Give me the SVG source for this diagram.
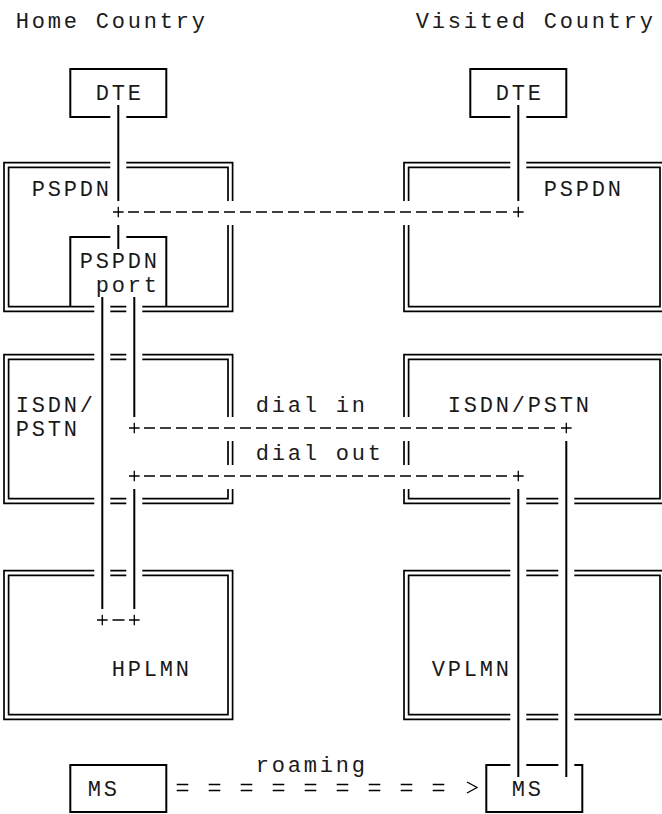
<svg xmlns="http://www.w3.org/2000/svg" width="662" height="814" viewBox="0 0 662 814">
<style>
  text { font-family: "Liberation Mono", "DejaVu Sans Mono", monospace; font-size: 22px; letter-spacing: 2.8px; fill: #1a1a1a; }
  .dbl { fill: none; stroke: #000; stroke-width: 1.7; }
  .sgl { fill: none; stroke: #000; stroke-width: 2; }
  .wire { fill: none; stroke: #000; stroke-width: 2; }
  .plus { fill: none; stroke: #000; stroke-width: 1.3; }
  .dash { fill: none; stroke: #000; stroke-width: 1.4; stroke-dasharray: 11 5; }
  .eq { fill: none; stroke: #000; stroke-width: 1.3; stroke-dasharray: 11.6 20.4; }
</style>
<rect x="0" y="0" width="662" height="814" fill="#fff"/>

<g id="titles">
  <text x="15.7" y="28.3">Home Country</text>
  <text x="415.7" y="28.3">Visited Country</text>
</g>

<g id="home-dte">
  <path class="sgl" d="M126.3,117 H166.3 V69 H70.3 V117 H110.3"/>
  <text x="95.7" y="100.3">DTE</text>
</g>

<g id="visited-dte">
  <path class="sgl" d="M526.3,117 H566.3 V69 H470.3 V117 H510.3"/>
  <text x="495.7" y="100.3">DTE</text>
</g>

<g id="home-pspdn">
  <path class="dbl" d="M126.3,162.7 H232.6 V201 M232.6,225 V311.3 H142.3 M126.3,311.3 H110.3 M94.3,311.3 H4 V162.7 H110.3"/>
  <path class="dbl" d="M126.3,167.3 H228 V201 M228,225 V306.7 H142.3 M126.3,306.7 H110.3 M94.3,306.7 H8.6 V167.3 H110.3"/>
  <text x="31.7" y="196.3">PSPDN</text>
</g>

<g id="pspdn-port">
  <path class="sgl" d="M70.3,306.7 V237 H110.3 M126.3,237 H166.3 V306.7"/>
  <text x="79.7" y="268.3">PSPDN</text>
  <text x="95.7" y="292.3">port</text>
</g>

<g id="visited-pspdn">
  <path class="dbl" d="M526.3,162.7 H664.6 V311.3 H404 V225 M404,201 V162.7 H510.3"/>
  <path class="dbl" d="M526.3,167.3 H660 V306.7 H408.6 V225 M408.6,201 V167.3 H510.3"/>
  <text x="543.7" y="196.3">PSPDN</text>
</g>

<g id="home-isdn-pstn">
  <path class="dbl" d="M142.3,354.7 H232.6 V417 M232.6,441 V465 M232.6,489 V503.3 H142.3 M126.3,503.3 H110.3 M94.3,503.3 H4 V354.7 H94.3 M110.3,354.7 H126.3"/>
  <path class="dbl" d="M142.3,359.3 H228 V417 M228,441 V465 M228,489 V498.7 H142.3 M126.3,498.7 H110.3 M94.3,498.7 H8.6 V359.3 H94.3 M110.3,359.3 H126.3"/>
  <text x="15.7" y="412.3">ISDN/</text>
  <text x="15.7" y="436.3">PSTN</text>
</g>

<g id="visited-isdn-pstn">
  <path class="dbl" d="M404,417 V354.7 H664.6 V503.3 H574.3 M558.3,503.3 H526.3 M510.3,503.3 H404 V489 M404,465 V441"/>
  <path class="dbl" d="M408.6,417 V359.3 H660 V498.7 H574.3 M558.3,498.7 H526.3 M510.3,498.7 H408.6 V489 M408.6,465 V441"/>
  <text x="447.7" y="412.3">ISDN/PSTN</text>
</g>

<g id="hplmn">
  <path class="dbl" d="M142.3,570.7 H232.6 V719.3 H4 V570.7 H94.3 M110.3,570.7 H126.3"/>
  <path class="dbl" d="M142.3,575.3 H228 V714.7 H8.6 V575.3 H94.3 M110.3,575.3 H126.3"/>
  <text x="111.7" y="676.3">HPLMN</text>
</g>

<g id="vplmn">
  <path class="dbl" d="M574.3,570.7 H664.6 V719.3 H574.3 M558.3,719.3 H526.3 M510.3,719.3 H404 V570.7 H510.3 M526.3,570.7 H558.3"/>
  <path class="dbl" d="M574.3,575.3 H660 V714.7 H574.3 M558.3,714.7 H526.3 M510.3,714.7 H408.6 V575.3 H510.3 M526.3,575.3 H558.3"/>
  <text x="431.7" y="676.3">VPLMN</text>
</g>

<g id="home-ms">
  <path class="sgl" d="M70.3,765 H166.3 V812 H70.3 Z"/>
  <text x="87.7" y="796.3">MS</text>
</g>

<g id="visited-ms">
  <path class="sgl" d="M510.3,765 H486.3 V812 H582.3 V765 H574.3 M558.3,765 H526.3"/>
  <text x="511.7" y="796.3">MS</text>
</g>

<g id="connectors">
  <path class="wire" d="M118.3,105 V201 M118.3,225 V249"/>
  <path class="wire" d="M518.3,105 V201"/>
  <path class="wire" d="M102.3,297 V609"/>
  <path class="wire" d="M134.3,297 V417 M134.3,489 V609"/>
  <path class="wire" d="M566.3,441 V777"/>
  <path class="wire" d="M518.3,489 V777"/>
  <path class="plus" d="M113,212 H123.6 M118.3,206.7 V217.3 M513,212 H523.6 M518.3,206.7 V217.3"/>
  <path class="plus" d="M129,428 H139.6 M134.3,422.7 V433.3 M561,428 H571.6 M566.3,422.7 V433.3"/>
  <path class="plus" d="M129,476 H139.6 M134.3,470.7 V481.3 M513,476 H523.6 M518.3,470.7 V481.3"/>
  <path class="plus" d="M97,620 H107.6 M102.3,614.7 V625.3 M112.5,620 H124.5 M129,620 H139.6 M134.3,614.7 V625.3"/>
  <line class="dash" x1="128" y1="212" x2="507" y2="212"/>
  <line class="dash" x1="144" y1="428" x2="555" y2="428"/>
  <line class="dash" x1="144" y1="476" x2="507" y2="476"/>
  <text x="255.7" y="412.3">dial in</text>
  <text x="255.7" y="460.3">dial out</text>
  <line class="eq" x1="176.7" y1="784.5" x2="444.5" y2="784.5"/>
  <line class="eq" x1="176.7" y1="790.5" x2="444.5" y2="790.5"/>
  <path class="plus" d="M467,782 L477,787.5 L467,793"/>
  <text x="255.7" y="772.3">roaming</text>
</g>
</svg>
